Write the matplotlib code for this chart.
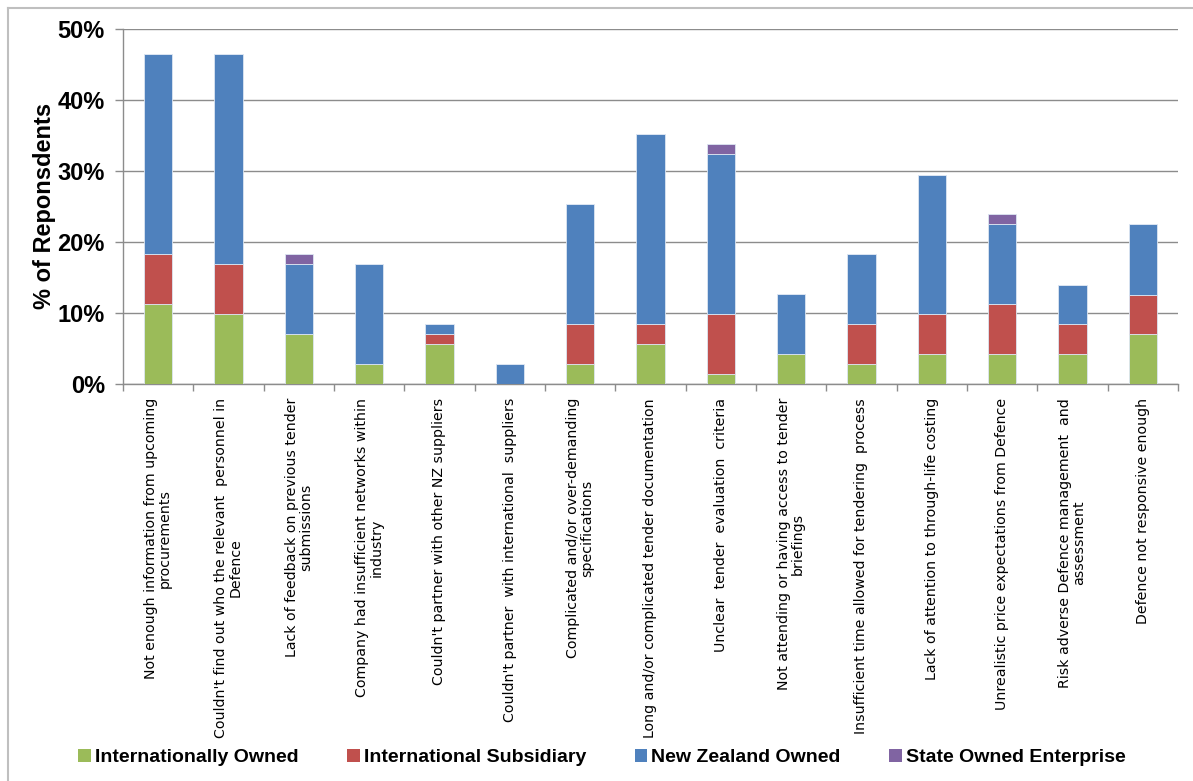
import numpy as np
import matplotlib.pyplot as plt
from matplotlib.lines import Line2D
from matplotlib.patches import Patch

#######################################################
# Barriers to tendering, share of respondents (%) by ownership type
#######################################################
categories = [
    "Not enough information from upcoming\nprocurements",
    "Couldn't find out who the relevant  personnel in\nDefence",
    "Lack of feedback on previous tender\nsubmissions",
    "Company had insufficient networks within\nindustry",
    "Couldn't partner with other NZ suppliers",
    "Couldn't partner  with international  suppliers",
    "Complicated and/or over-demanding\nspecifications",
    "Long and/or complicated tender documentation",
    "Unclear  tender  evaluation  criteria",
    "Not attending or having access to tender\nbriefings",
    "Insufficient time allowed for tendering  process",
    "Lack of attention to through-life costing",
    "Unrealistic price expectations from Defence",
    "Risk adverse Defence management  and\nassessment",
    "Defence not responsive enough",
]

intl_owned      = [11.3, 9.9, 7.0, 2.8, 5.6, 0.0, 2.8, 5.6, 1.4, 4.2, 2.8, 4.2, 4.2, 4.2, 7.0]
intl_subsidiary = [7.0, 7.0, 0.0, 0.0, 1.4, 0.0, 5.6, 2.8, 8.5, 0.0, 5.6, 5.6, 7.0, 4.2, 5.6]
nz_owned        = [28.2, 29.6, 9.9, 14.1, 1.4, 2.8, 16.9, 26.8, 22.5, 8.5, 9.9, 19.7, 11.3, 5.6, 9.9]
state_owned     = [0.0, 0.0, 1.4, 0.0, 0.0, 0.0, 0.0, 0.0, 1.4, 0.0, 0.0, 0.0, 1.4, 0.0, 0.0]

series_names  = ["Internationally Owned", "International Subsidiary",
                 "New Zealand Owned", "State Owned Enterprise"]
series_colors = ["#9BBB59", "#C0504D", "#4F81BD", "#8064A2"]

#######################################################
fig = plt.figure(figsize=(11.93, 7.81), dpi=100)
ax = fig.add_axes([0.1031, 0.5083, 0.8843, 0.4546])

x = np.arange(len(categories))
bottom = np.zeros(len(categories))
for vals, name, col in zip([intl_owned, intl_subsidiary, nz_owned, state_owned],
                           series_names, series_colors):
    vals = np.array(vals)
    ax.bar(x, vals, width=0.4, bottom=bottom, color=col, label=name,
           edgecolor="#DCE6F2", linewidth=0.6, zorder=3)
    bottom += vals

ax.set_xlim(-0.5, len(categories) - 0.5)
ax.set_ylim(0, 50)
ax.set_yticks(np.arange(0, 51, 10))
ax.set_yticklabels([f"{v}%" for v in range(0, 51, 10)],
                   fontsize=17, fontweight="bold", family="Liberation Sans")
ax.yaxis.grid(True, color="#8C8C8C", linewidth=1.0, zorder=0)
ax.tick_params(axis="y", length=6, width=1, color="#8C8C8C", pad=7)

# category labels at centres, tick marks between categories
ax.set_xticks(x)
ax.set_xticklabels(categories, rotation=90, fontsize=10.2, family="DejaVu Sans",
                   ha="center", va="top", multialignment="center", linespacing=1.0)
ax.tick_params(axis="x", which="major", length=0, pad=10)
ax.set_xticks(np.arange(-0.5, len(categories)), minor=True)
ax.tick_params(axis="x", which="minor", length=5, width=1, color="#8C8C8C")

for s in ["top", "right"]:
    ax.spines[s].set_visible(False)
for s in ["left", "bottom"]:
    ax.spines[s].set_color("#8C8C8C")
    ax.spines[s].set_linewidth(1.0)

fig.text(0.037, 0.736, "% of Reponsdents", rotation=90, ha="center", va="center",
         fontsize=17, fontweight="bold", family="Liberation Sans")

# legend along the bottom
handles = [Patch(facecolor=c, edgecolor="none") for c in series_colors]
fig.legend(handles, series_names, loc="center", bbox_to_anchor=(0.5045, 0.030),
           ncol=4, frameon=False, handlelength=0.65, handleheight=0.65,
           handletextpad=0.2, columnspacing=2.5,
           prop={"family": "Liberation Sans", "weight": "bold", "size": 14})

# chart area border (left and top edges)
fig.add_artist(Line2D([0.0067, 0.0067], [0.0, 0.9898], color="#BFBFBF", lw=1.5,
                      transform=fig.transFigure))
fig.add_artist(Line2D([0.0067, 1.0], [0.9898, 0.9898], color="#BFBFBF", lw=1.5,
                      transform=fig.transFigure))

plt.savefig("out.png", dpi=100)
